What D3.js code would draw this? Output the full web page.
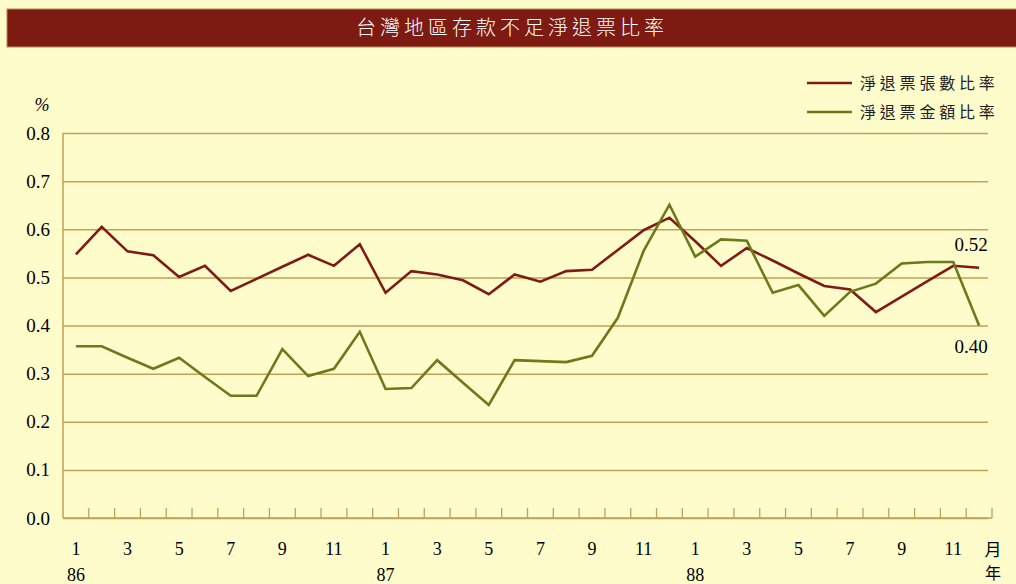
<!DOCTYPE html>
<html><head><meta charset="utf-8">
<script src="https://cdn.jsdelivr.net/npm/d3@7"></script>
<style>
html,body{margin:0;padding:0;background:#fffccc;}
svg{display:block;}
</style></head>
<body>
<svg id="c" width="1016" height="584"></svg>
<script>
const title = "台灣地區存款不足淨退票比率";
const years = ["86","87","88"];
const months = [1,2,3,4,5,6,7,8,9,10,11,12];
const seriesNames = ["淨退票張數比率","淨退票金額比率"];
const countRatio = [
  0.548,0.605,0.554,0.546,0.501,0.524,0.472,0.497,0.522,0.547,0.524,0.569,
  0.468,0.513,0.506,0.494,0.465,0.506,0.491,0.513,0.516,0.557,0.598,0.624,
  0.575,0.524,0.561,0.535,0.508,0.482,0.475,0.428,0.460,0.492,0.524,0.520];
const amountRatio = [
  0.357,0.357,0.333,0.310,0.333,0.293,0.254,0.254,0.351,0.295,0.310,0.387,
  0.268,0.270,0.328,0.281,0.235,0.328,0.326,0.324,0.337,0.416,0.555,0.651,
  0.543,0.579,0.576,0.468,0.484,0.420,0.470,0.487,0.529,0.532,0.532,0.400];
const yTicks = [0,0.1,0.2,0.3,0.4,0.5,0.6,0.7,0.8];
const endLabels = ["0.52","0.40"];

const colors = ["#7f1a14","#6b7a1a"];
const gold = "#bfa257";
const serif = "'Liberation Serif','DejaVu Serif',serif";
const cjk = "'Noto Sans CJK TC','Noto Sans CJK SC',sans-serif";

const svg = d3.select("#c");
const idx = d3.range(years.length*months.length);
const x = d3.scaleBand().domain(idx).range([63,992]).padding(0);
const y = d3.scaleLinear().domain([0,0.8]).range([518,133]);

// title bar
svg.append("rect").attr("x",7).attr("y",9).attr("width",1012).attr("height",38)
  .attr("fill","#7d1a11").attr("stroke","#b48a55").attr("stroke-width",1);
svg.append("text").attr("x",512).attr("y",35).attr("text-anchor","middle")
  .attr("fill","#fff").attr("font-family",cjk).attr("font-size",20).attr("font-weight",300)
  .attr("letter-spacing",4).text(title);

// gridlines + y axis
const yAxis = d3.axisLeft(y).tickValues(yTicks).tickFormat(d3.format(".1f"))
  .tickSize(-(988-63)).tickPadding(13);
const gy = svg.append("g").attr("transform","translate(63,0)").call(yAxis);
gy.select(".domain").remove();
gy.selectAll(".tick line").attr("stroke",gold).attr("stroke-width",1.5);
gy.selectAll(".tick text").attr("font-family",serif).attr("font-size",19).attr("fill","#000");
svg.append("line").attr("x1",63).attr("x2",63).attr("y1",y(0.8)).attr("y2",y(0))
  .attr("stroke",gold).attr("stroke-width",1.5);
svg.append("text").attr("x",42).attr("y",111).attr("text-anchor","middle")
  .attr("font-family",serif).attr("font-size",18).attr("font-style","italic").text("%");

// x axis
svg.append("line").attr("x1",63).attr("x2",992).attr("y1",y(0)).attr("y2",y(0))
  .attr("stroke",gold).attr("stroke-width",1.5);
svg.append("g").selectAll("line").data(idx.slice(1).concat([idx.length])).join("line")
  .attr("x1",d=>d<idx.length?x(d):x.range()[1]).attr("x2",d=>d<idx.length?x(d):x.range()[1])
  .attr("y1",y(0)).attr("y2",y(0)-10).attr("stroke",gold).attr("stroke-width",1.3);

const xAxis = d3.axisBottom(x).tickValues(idx.filter(i=>i%2===0))
  .tickFormat(i=>months[i%12]).tickSize(0).tickPadding(24);
const gx = svg.append("g").attr("transform",`translate(0,${y(0)})`).call(xAxis);
gx.select(".domain").remove();
gx.selectAll(".tick text").attr("font-family",serif).attr("font-size",18).attr("fill","#000");
svg.append("g").selectAll("text").data(years).join("text")
  .attr("x",(d,i)=>x(i*12)+x.bandwidth()/2).attr("y",581).attr("text-anchor","middle")
  .attr("font-family",serif).attr("font-size",18).text(d=>d);
svg.append("text").attr("x",993).attr("y",556).attr("text-anchor","middle")
  .attr("font-family",cjk).attr("font-size",17).text("月");
svg.append("text").attr("x",993).attr("y",579).attr("text-anchor","middle")
  .attr("font-family",cjk).attr("font-size",16).text("年");

// lines
const line = d3.line().x((d,i)=>x(i)+x.bandwidth()/2).y(d=>y(d));
[countRatio, amountRatio].forEach((s,k)=>{
  svg.append("path").datum(s).attr("d",line).attr("fill","none")
    .attr("stroke",colors[k]).attr("stroke-width",2.6).attr("stroke-linejoin","miter");
});

// end labels
const last = idx.length-1;
svg.append("text").attr("x",x(last)+x.bandwidth()/2-8).attr("y",y(countRatio[last])-17)
  .attr("text-anchor","middle").attr("font-family",serif).attr("font-size",19).text(endLabels[0]);
svg.append("text").attr("x",x(last)+x.bandwidth()/2-8).attr("y",y(amountRatio[last])+27)
  .attr("text-anchor","middle").attr("font-family",serif).attr("font-size",19).text(endLabels[1]);

// legend
const lg = svg.append("g");
seriesNames.forEach((n,k)=>{
  const yy = 83 + k*29;
  lg.append("line").attr("x1",807).attr("x2",852).attr("y1",yy).attr("y2",yy)
    .attr("stroke",colors[k]).attr("stroke-width",2.6);
  lg.append("text").attr("x",860).attr("y",yy+6).attr("font-family",cjk).attr("font-size",16)
    .attr("letter-spacing",3.8).attr("fill","#222").text(n);
});
</script>
</body></html>
